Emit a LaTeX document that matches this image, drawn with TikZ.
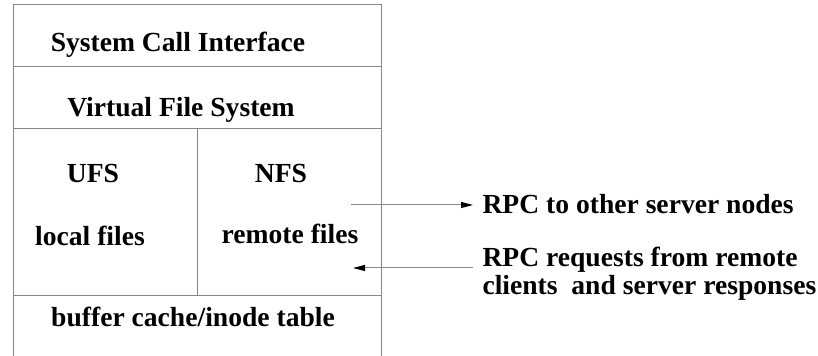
\documentclass[tikz,border=0pt]{standalone}
\usepackage{fontspec}
\setmainfont{Liberation Serif}
\usetikzlibrary{arrows.meta}

\begin{document}
\begin{tikzpicture}[x=0.5pt,y=-0.5pt,>={Triangle[length=6pt,width=3pt,color=black]},
                    line width=0.5pt]
  \tikzstyle{layer line}=[draw={rgb,255:red,135;green,135;blue,135}]
  \tikzstyle{layer text}=[font=\fontsize{13.8}{15}\selectfont\bfseries,
                          anchor=base,inner sep=0pt]
  \tikzstyle{rpc text}=[font=\fontsize{13.8}{15}\selectfont\bfseries,
                        anchor=base west,inner sep=4.5pt]

  \useasboundingbox (0,0) rectangle (818,356);

  % layers of the file system stack
  \draw[layer line] (13,356) -- (13,5) -- (381,5) -- (381,356);
  \draw[layer line] (13,67) -- (381,67)
                    (13,129) -- (381,129)
                    (13,296) -- (381,296)
                    (197,129) -- (197,296);

  \node[layer text] (sci)    at (178,52)  {System Call Interface};
  \node[layer text] (vfs)    at (181,117) {Virtual File System};
  \node[layer text] (ufs)    at (93,183)  {UFS};
  \node[layer text] (nfs)    at (281,183) {NFS};
  \node[layer text] (local)  at (90,246)  {local files};
  \node[layer text] (remote) at (290,244) {remote files};
  \node[layer text] (cache)  at (193,327) {buffer cache/inode table};

  \node[rpc text] (rpcout)  at (473,214) {RPC to other server nodes};
  \node[rpc text] (rpcin)   at (473,267) {RPC requests from remote};
  \node[rpc text] (rpcin2)  at (473,295) {clients~ and server responses};

  \coordinate (nfsout) at (351,205);
  \coordinate (nfsin)  at (353,268);

  \draw[layer line,->] (nfsout) -- (nfsout -| rpcout.west);
  \draw[layer line,->] (rpcin.west |- nfsin) -- (nfsin);

\end{tikzpicture}
\end{document}
